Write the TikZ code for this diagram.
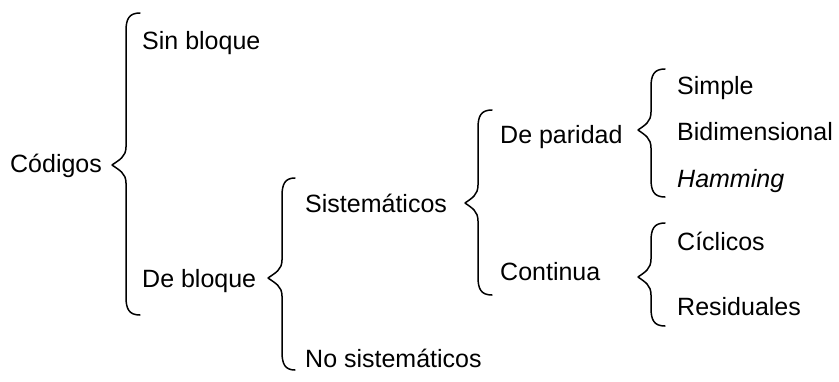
\documentclass[tikz,border=0pt]{standalone}
\usepackage{fontspec}
\setmainfont{Liberation Sans}
\begin{document}
\begin{tikzpicture}[x=1pt,y=-1pt,
  lbl/.style={anchor=base west,inner sep=0pt,font=\fontsize{25}{30}\selectfont},
  brace/.style={line width=1.5pt,line join=round,line cap=round}]
\useasboundingbox (0,0) rectangle (839,381);
% brace macro: end x, spine x, tip x, top y, mid y, bottom y
\newcommand{\mybrace}[6]{%
  \draw[brace] (#1,#4) .. controls (#2+3,#4) and (#2,#4+6) .. (#2,#4+18) -- (#2,#5-18)
    .. controls (#2,#5-8) and (#3+7,#5-5) .. (#3,#5)
    .. controls (#3+7,#5+5) and (#2,#5+8) .. (#2,#5+18)
    -- (#2,#6-18) .. controls (#2,#6-6) and (#2+3,#6) .. (#1,#6);}
\node[lbl] (cod) at (10,172) {Códigos};
\node[lbl] (sin) at (142,49) {Sin bloque};
\node[lbl] (deb) at (142,287) {De bloque};
\node[lbl] (sis) at (305,212) {Sistemáticos};
\node[lbl] (nos) at (305,367) {No sistemáticos};
\node[lbl] (par) at (500,143) {De paridad};
\node[lbl] (con) at (500,280) {Continua};
\node[lbl] (sim) at (677,94) {Simple};
\node[lbl] (bid) at (677,140) {Bidimensional};
\node[lbl] (ham) at (677,187) {\itshape Hamming};
\node[lbl] (cic) at (677,250) {Cíclicos};
\node[lbl] (res) at (677,315) {Residuales};
\mybrace{140}{126}{112}{13}{165}{315}
\mybrace{295}{282}{268}{178}{278}{370}
\mybrace{492}{478}{465}{110}{203}{295}
\mybrace{665}{651}{638}{69}{130}{197}
\mybrace{665}{651}{638}{223}{277}{326}
\end{tikzpicture}
\end{document}
